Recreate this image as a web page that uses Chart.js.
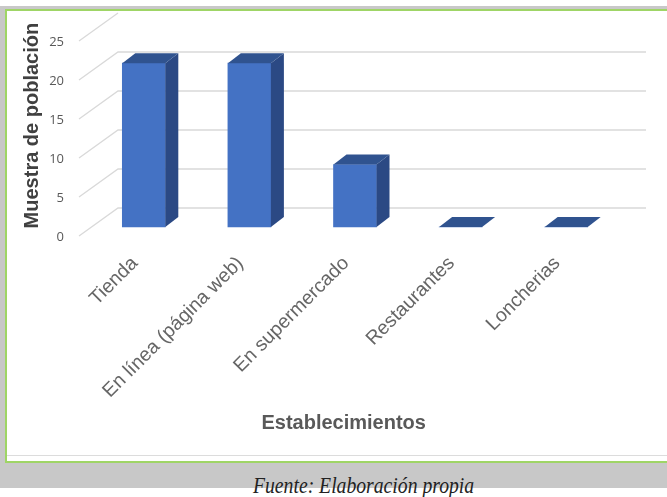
<!DOCTYPE html>
<html lang="es">
<head>
<meta charset="utf-8">
<script src="https://cdn.jsdelivr.net/npm/chart.js@4/dist/chart.umd.min.js"></script>
<style>
  html, body { margin: 0; padding: 0; }
  body { width: 667px; height: 497px; position: relative; overflow: hidden; background: #fff; }
  .marco { position: absolute; left: 0; top: 6px; width: 667px; height: 482px; background: #c8c8c8; }
  .panel {
    position: absolute; left: 5px; top: 9px; width: 670px; height: 450px;
    background: #fff; border: 2px solid #9fd566; border-right: none;
  }
  .linea { position: absolute; left: 7px; top: 455px; width: 660px; height: 1px; background: #dcdcdc; }
  #grafico { position: absolute; left: 0; top: 0; }
  .fuente {
    position: absolute; left: 253px; top: 473px; white-space: nowrap;
    font: italic 24px/24px "Liberation Serif", serif; color: #222;
    transform: scaleX(0.82); transform-origin: left top;
  }
</style>
</head>
<body>
<div class="marco"></div>
<div class="panel"></div>
<div class="linea"></div>
<canvas id="grafico" width="667" height="455"></canvas>
<div class="fuente">Fuente: Elaboración propia</div>

<script>
"use strict";

// datos del gráfico
const establecimientos = ['Tienda', 'En línea (página web)', 'En supermercado', 'Restaurantes', 'Loncherias'];
const muestra = [21, 21, 8, 0, 0];
const ejeY = { min: 0, max: 25, paso: 5 };

// colores de las caras de cada barra
const colorFrente = '#4472c4';
const colorLado = '#2b4984';
const colorArriba = '#30538f';
const colorRejilla = '#d9d9d9';

// desplazamientos de la perspectiva
const pared = { dx: 30, dy: -29 };     // pared del fondo respecto a las etiquetas
const frente = { dx: 3, dy: -10 };     // cara frontal de las barras
const fondo = { dx: 13, dy: -10 };     // profundidad de cada barra

// rejilla en perspectiva + caras laterales/superiores de las barras
const barras3d = {
  id: 'barras3d',
  beforeDatasetsDraw(chart) {
    const { ctx, chartArea: a, scales: { y } } = chart;
    ctx.save();
    ctx.strokeStyle = colorRejilla;
    ctx.lineWidth = 1.3;
    y.ticks.forEach(t => {
      const py = y.getPixelForValue(t.value);
      ctx.beginPath();
      ctx.moveTo(a.left - 9, py - 1);
      ctx.lineTo(a.left + pared.dx, py + pared.dy);
      if (t.value < y.max) ctx.lineTo(a.right + pared.dx, py + pared.dy);
      ctx.stroke();
    });
    ctx.restore();

    ctx.save();
    ctx.translate(frente.dx, frente.dy);
  },
  afterDatasetsDraw(chart) {
    const { ctx } = chart;
    chart.getDatasetMeta(0).data.forEach(bar => {
      const { x, y, base, width } = bar.getProps(['x', 'y', 'base', 'width'], true);
      const izq = x - width / 2;
      const der = x + width / 2;

      ctx.fillStyle = colorLado;
      ctx.beginPath();
      ctx.moveTo(der, y);
      ctx.lineTo(der + fondo.dx, y + fondo.dy);
      ctx.lineTo(der + fondo.dx, base + fondo.dy);
      ctx.lineTo(der, base);
      ctx.closePath();
      ctx.fill();

      ctx.fillStyle = colorArriba;
      ctx.beginPath();
      ctx.moveTo(izq, y);
      ctx.lineTo(izq + fondo.dx, y + fondo.dy);
      ctx.lineTo(der + fondo.dx, y + fondo.dy);
      ctx.lineTo(der, y);
      ctx.closePath();
      ctx.fill();
    });
    ctx.restore();
  }
};

const ctx = document.getElementById('grafico').getContext('2d');
const chart = new Chart(ctx, {
  type: 'bar',
  data: {
    labels: establecimientos,
    datasets: [{
      data: muestra,
      backgroundColor: colorFrente,
      borderWidth: 0,
      barThickness: 43,
      clip: false
    }]
  },
  options: {
    responsive: false,
    animation: false,
    devicePixelRatio: 1,
    layout: { padding: { left: 8, right: 51, top: 42, bottom: 18 } },
    plugins: {
      legend: { display: false },
      tooltip: { enabled: false }
    },
    scales: {
      x: {
        grid: { display: false, drawTicks: false },
        border: { display: false },
        ticks: {
          minRotation: 45,
          maxRotation: 45,
          padding: 15,
          labelOffset: -6,
          color: '#666666',
          font: { family: 'Liberation Sans', size: 19.5 }
        },
        title: {
          display: true,
          // los espacios finales corren el título hacia la izquierda
          text: 'Establecimientos   ',
          color: '#595959',
          padding: { top: 0, bottom: 2 },
          font: { family: 'Liberation Sans', size: 20, weight: 'bold' }
        },
        afterFit(scale) { scale.height = 200; }
      },
      y: {
        min: ejeY.min,
        max: ejeY.max,
        grid: { display: false, drawTicks: false },
        border: { display: false },
        ticks: {
          stepSize: ejeY.paso,
          padding: 24,
          color: '#595959',
          font: { family: 'Open Sans', size: 13 }
        },
        title: {
          display: true,
          // los espacios iniciales suben el título
          text: '     Muestra de población',
          color: '#404040',
          padding: { top: 12, bottom: 0 },
          font: { family: 'Liberation Sans', size: 20, weight: 'bold' }
        },
        afterFit(scale) { scale.width = 80; }
      }
    }
  },
  plugins: [barras3d]
});
</script>
</body>
</html>
